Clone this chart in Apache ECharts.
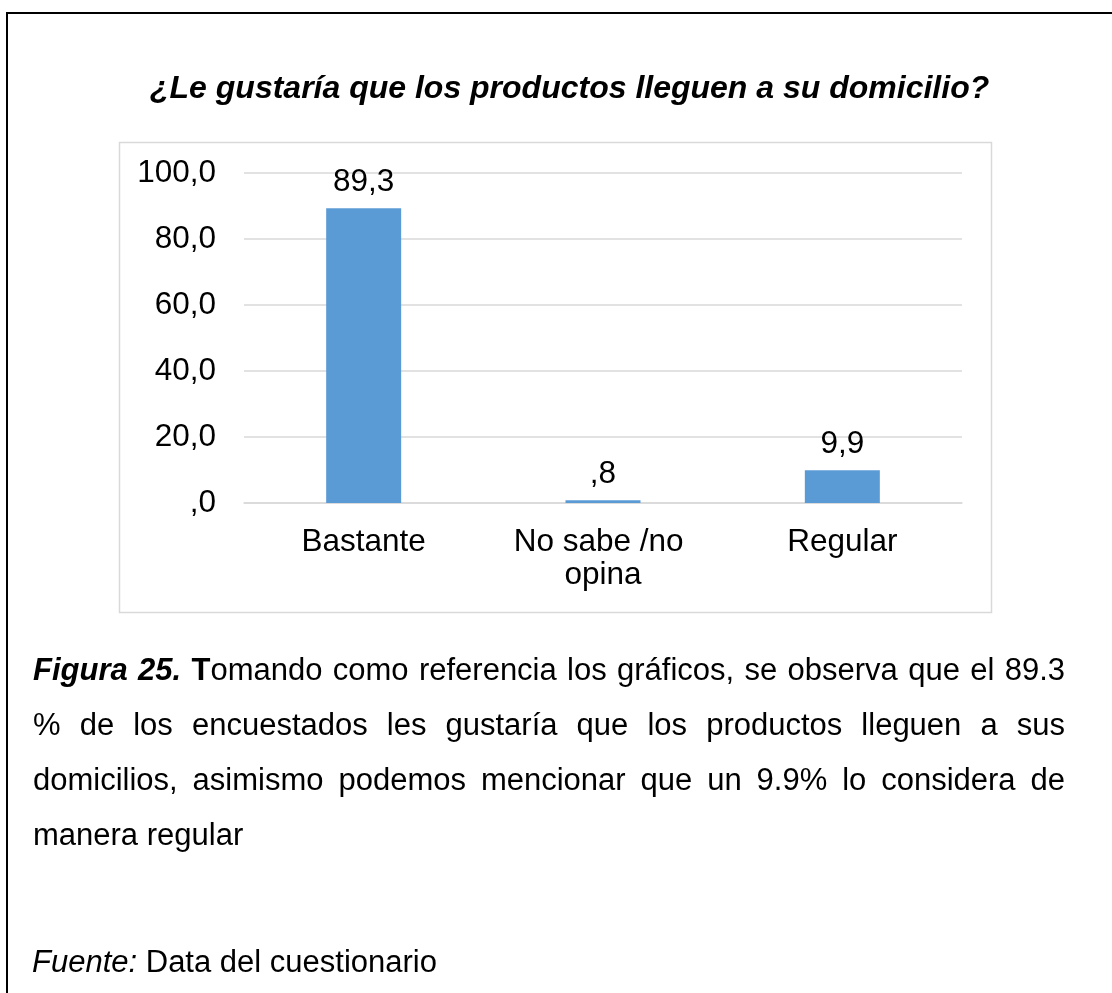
<!DOCTYPE html>
<html>
<head>
<meta charset="utf-8">
<script src="https://cdn.jsdelivr.net/npm/echarts@6/dist/echarts.min.js"></script>
<style>
  html, body { margin:0; padding:0; background:#fff; }
  #page { position:relative; width:1112px; height:993px; overflow:hidden; font-family:"Liberation Sans", Arial, sans-serif; }
  #frame { position:absolute; left:6px; top:12px; width:1200px; height:1100px; border:2px solid #000; box-sizing:border-box; }
  #chart { position:absolute; left:0; top:0; width:1112px; height:993px; }
  #caption { position:absolute; left:33px; top:642px; width:1032px; font-size:31px; line-height:55px; text-align:justify; color:#000; }
  #source { position:absolute; left:32px; top:942px; font-size:31px; line-height:40px; color:#000; }
</style>
</head>
<body>
<div id="page">
  <div id="frame"></div>
  <div id="chart"></div>
  <div id="caption"><b><i>Figura 25.</i> T</b>omando como referencia los gráficos, se observa que el 89.3 % de los encuestados les gustaría que los productos lleguen a sus domicilios, asimismo podemos mencionar que un 9.9% lo considera de manera regular</div>
  <div id="source"><i>Fuente:</i> Data del cuestionario</div>
</div>
<script>
var categorias = ['Bastante', 'No sabe /no opina', 'Regular'];
var porcentajes = [89.3, 0.8, 9.9];
var ejeMin = 0, ejeMax = 100, ejeIntervalo = 20;

// formato tipo Excel: 0.8 -> ",8", 0 -> ",0"
function fmt(v){
  var s = Number(v).toFixed(1).replace('.', ',');
  if (s.indexOf('0,') === 0) s = s.substring(1);
  return s;
}

var chart = echarts.init(document.getElementById('chart'));
chart.setOption({
  animation: false,
  textStyle: { fontFamily: '"Liberation Sans", Arial, sans-serif' },
  title: {
    text: '¿Le gustaría que los productos lleguen a su domicilio?',
    left: 145,
    top: 68,
    textStyle: { fontSize: 32, fontWeight: 'bold', fontStyle: 'italic', color: '#000' }
  },
  graphic: [{
    type: 'rect',
    shape: { x: 119.5, y: 142.5, width: 872, height: 470 },
    style: { fill: 'none', stroke: '#d9d9d9', lineWidth: 1.5 },
    silent: true
  }],
  grid: { left: 244, right: 150, top: 173, bottom: 490 },
  xAxis: {
    type: 'category',
    data: categorias,
    axisLine: { show: true, lineStyle: { color: '#d9d9d9', width: 1.5 } },
    axisTick: { show: false },
    axisLabel: {
      color: '#000', fontSize: 31.5, margin: 23, lineHeight: 33,
      width: 215, overflow: 'break', interval: 0
    }
  },
  yAxis: {
    type: 'value',
    min: ejeMin, max: ejeMax, interval: ejeIntervalo,
    axisLine: { show: false },
    axisTick: { show: false },
    splitLine: { lineStyle: { color: '#d9d9d9', width: 1.5 } },
    axisLabel: { color: '#000', fontSize: 31.5, margin: 28, formatter: fmt }
  },
  series: [{
    type: 'bar',
    data: porcentajes,
    barWidth: 75,
    itemStyle: { color: '#5b9bd5' },
    label: {
      show: true, position: 'top', distance: 10,
      color: '#000', fontSize: 31.5,
      formatter: function(p){ return fmt(p.value); }
    }
  }]
});
</script>
</body>
</html>
